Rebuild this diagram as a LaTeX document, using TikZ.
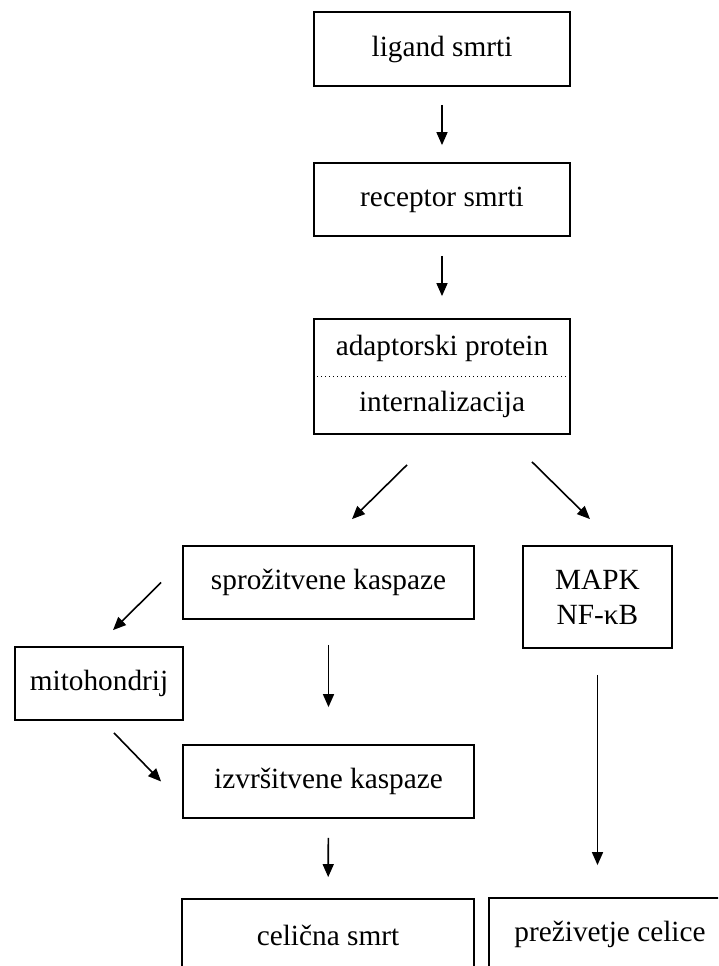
\documentclass[tikz,border=0pt]{standalone}
\usepackage{fontspec}
\setmainfont{Liberation Serif}
\usetikzlibrary{arrows.meta,calc}

\begin{document}
\begin{tikzpicture}[x=1pt,y=-1pt,
    box/.style={draw,line width=1.8pt,rectangle,inner sep=0pt,align=center,
      font=\fontsize{29.3}{35}\selectfont},
    arr/.style={-{Triangle[width=11pt,length=13pt]},line width=1.6pt},
    gap/.style 2 args={shorten <=#1pt,shorten >=#2pt}]
  \useasboundingbox (0,0) rectangle (718,966);
  \clip (0,0) rectangle (718,966);
  % main chain
  \node[box,minimum width=256pt,minimum height=74pt] (lig) at (442,49) {ligand smrti};
  \node[box,minimum width=256pt,minimum height=73pt] (rec) at (442,199.5) {receptor smrti};
  \node[box,minimum width=256pt,minimum height=115pt,font=\fontsize{29.3}{56}\selectfont] (adapt) at (442,376.5) {adaptorski protein\\internalizacija};
  \draw[line width=1.3pt,dash pattern=on 1.3pt off 2.7pt] (adapt.west) -- (adapt.east);
  % caspases
  \node[box,minimum width=291pt,minimum height=73pt] (sproz) at (328.5,582.5) {sprožitvene kaspaze};
  \node[box,minimum width=168pt,minimum height=73pt] (mito) at (99,683.5) {mitohondrij};
  \node[box,minimum width=291pt,minimum height=73pt] (izvr) at (328.5,781.5) {izvršitvene kaspaze};
  \node[box,minimum width=292pt,minimum height=73pt] (cel) at (328,935.5) {celična smrt};
  % survival
  \node[box,minimum width=149pt,minimum height=102pt] (mapk) at (597.5,597) {MAPK\\NF-κB};
  \node[box,minimum width=242pt,minimum height=73pt] (prez) at (610,934.5) {preživetje celice};
  % arrows
  \draw[arr,gap={18}{17}] (lig) -- (rec);
  \draw[arr,gap={19}{22}] (rec) -- (adapt);
  \draw[arr] ($(adapt.south)+(-35,30)$) -- ($(sproz.north)+(23.5,-26)$);
  \draw[arr] ($(adapt.south)+(90,27)$) -- ($(mapk.north)+(-7.5,-26)$);
  \draw[arr] ($(sproz.west)+(-21,0)$) -- ($(mito.north)+(14,-16)$);
  \draw[arr] ($(mito.south)+(15,12)$) -- ($(izvr.west)+(-21,0)$);
  \draw[arr,gap={25}{37}] (sproz) -- (izvr);
  \draw[arr,gap={19}{21}] (izvr) -- (cel);
  \draw[arr,gap={26}{32}] (mapk) -- (prez.north-|mapk);
\end{tikzpicture}
\end{document}
